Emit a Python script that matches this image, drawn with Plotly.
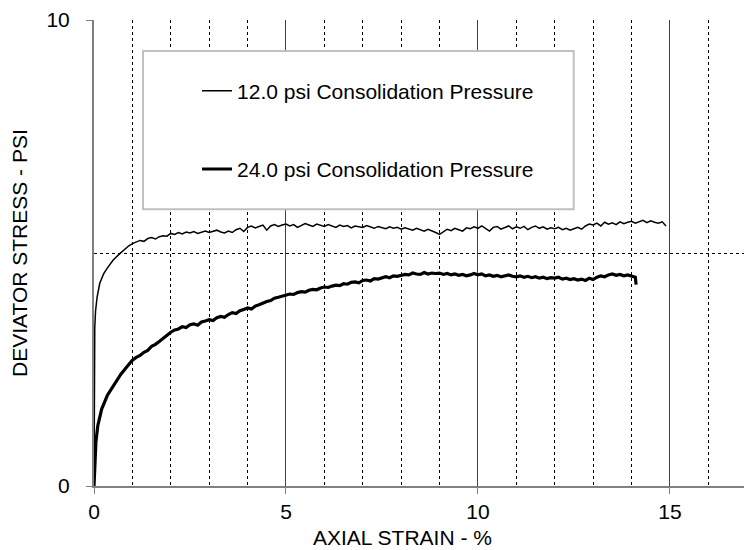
import plotly.graph_objects as go

# 12.0 psi consolidation pressure (thin line)
strain_12 = [0, 0.01, 0.02, 0.04, 0.08, 0.15, 0.25, 0.35, 0.5, 0.65, 0.8, 0.9,
             1.0, 1.1, 1.2, 1.3, 1.4, 1.5, 1.6, 1.7, 1.8, 1.9,
             2.0, 2.1, 2.2, 2.3, 2.4, 2.5, 2.6, 2.7, 2.8, 2.9,
             3.0, 3.1, 3.2, 3.3, 3.4, 3.5, 3.6, 3.7, 3.8, 3.9,
             4.0, 4.1, 4.2, 4.3, 4.4, 4.5, 4.6, 4.7, 4.8, 4.9,
             5.0, 5.1, 5.2, 5.3, 5.4, 5.5, 5.6, 5.7, 5.8, 5.9,
             6.0, 6.1, 6.2, 6.3, 6.4, 6.5, 6.6, 6.7, 6.8, 6.9,
             7.0, 7.1, 7.2, 7.3, 7.4, 7.5, 7.6, 7.7, 7.8, 7.9,
             8.0, 8.1, 8.2, 8.3, 8.4, 8.5, 8.6, 8.7, 8.8, 8.9,
             9.0, 9.1, 9.2, 9.3, 9.4, 9.5, 9.6, 9.7, 9.8, 9.9,
             10.0, 10.1, 10.2, 10.3, 10.4, 10.5, 10.6, 10.7, 10.8, 10.9,
             11.0, 11.1, 11.2, 11.3, 11.4, 11.5, 11.6, 11.7, 11.8, 11.9,
             12.0, 12.1, 12.2, 12.3, 12.4, 12.5, 12.6, 12.7, 12.8, 12.9,
             13.0, 13.1, 13.2, 13.3, 13.4, 13.5, 13.6, 13.7, 13.8, 13.9,
             14.0, 14.1, 14.2, 14.3, 14.4, 14.5, 14.6, 14.7, 14.8, 14.9]
stress_12 = [0, 2.0, 3.4, 3.75, 4.05, 4.35, 4.55, 4.68, 4.85, 4.97, 5.08, 5.15,
             5.20, 5.24, 5.27, 5.25, 5.31, 5.33, 5.30, 5.35, 5.37, 5.36,
             5.42, 5.40, 5.44, 5.41, 5.45, 5.43, 5.46, 5.42, 5.44, 5.47,
             5.44, 5.46, 5.49, 5.45, 5.43, 5.47, 5.44, 5.50, 5.53, 5.46,
             5.55, 5.58, 5.54, 5.57, 5.60, 5.49, 5.58, 5.61, 5.57, 5.60,
             5.62, 5.58, 5.61, 5.55, 5.59, 5.63, 5.60, 5.57, 5.62, 5.59,
             5.57, 5.61, 5.58, 5.55, 5.60, 5.57, 5.59, 5.54, 5.58, 5.56,
             5.55, 5.59, 5.56, 5.53, 5.57, 5.55, 5.52, 5.56, 5.53, 5.55,
             5.51, 5.54, 5.52, 5.49, 5.53, 5.50, 5.47, 5.51, 5.48, 5.44,
             5.40, 5.45, 5.51, 5.48, 5.53, 5.50, 5.47, 5.54, 5.52, 5.56,
             5.53, 5.58, 5.52, 5.47, 5.55, 5.57, 5.51, 5.54, 5.58, 5.52,
             5.56, 5.53, 5.57, 5.50, 5.55, 5.58, 5.53, 5.56, 5.51, 5.54,
             5.52, 5.55, 5.50, 5.53, 5.49, 5.52, 5.55, 5.51, 5.58, 5.62,
             5.60, 5.64, 5.58, 5.66, 5.62, 5.65, 5.61, 5.67, 5.63, 5.66,
             5.68, 5.64, 5.67, 5.70, 5.65, 5.69, 5.66, 5.64, 5.67, 5.58]

# 24.0 psi consolidation pressure (thick line)
strain_24 = [0, 0.02, 0.05, 0.1, 0.2, 0.35, 0.5, 0.7, 0.9,
             1.0, 1.1, 1.2, 1.3, 1.4, 1.5, 1.6, 1.7, 1.8, 1.9,
             2.0, 2.1, 2.2, 2.3, 2.4, 2.5, 2.6, 2.7, 2.8, 2.9,
             3.0, 3.1, 3.2, 3.3, 3.4, 3.5, 3.6, 3.7, 3.8, 3.9,
             4.0, 4.1, 4.2, 4.3, 4.4, 4.5, 4.6, 4.7, 4.8, 4.9,
             5.0, 5.1, 5.2, 5.3, 5.4, 5.5, 5.6, 5.7, 5.8, 5.9,
             6.0, 6.1, 6.2, 6.3, 6.4, 6.5, 6.6, 6.7, 6.8, 6.9,
             7.0, 7.1, 7.2, 7.3, 7.4, 7.5, 7.6, 7.7, 7.8, 7.9,
             8.0, 8.1, 8.2, 8.3, 8.4, 8.5, 8.6, 8.7, 8.8, 8.9,
             9.0, 9.1, 9.2, 9.3, 9.4, 9.5, 9.6, 9.7, 9.8, 9.9,
             10.0, 10.1, 10.2, 10.3, 10.4, 10.5, 10.6, 10.7, 10.8, 10.9,
             11.0, 11.1, 11.2, 11.3, 11.4, 11.5, 11.6, 11.7, 11.8, 11.9,
             12.0, 12.1, 12.2, 12.3, 12.4, 12.5, 12.6, 12.7, 12.8, 12.9,
             13.0, 13.1, 13.2, 13.3, 13.4, 13.5, 13.6, 13.7, 13.8, 13.9,
             14.0, 14.1, 14.12]
stress_24 = [0, 0.5, 0.95, 1.3, 1.65, 1.95, 2.15, 2.4, 2.6,
             2.70, 2.76, 2.80, 2.87, 2.91, 3.00, 3.04, 3.10, 3.17, 3.22,
             3.30, 3.35, 3.37, 3.42, 3.40, 3.46, 3.48, 3.45, 3.52, 3.54,
             3.57, 3.55, 3.61, 3.64, 3.62, 3.68, 3.72, 3.70, 3.76, 3.79,
             3.82, 3.80, 3.86, 3.89, 3.93, 3.96, 3.98, 4.03, 4.05, 4.07,
             4.10, 4.12, 4.11, 4.15, 4.17, 4.16, 4.20, 4.22, 4.21, 4.25,
             4.27, 4.26, 4.29, 4.31, 4.30, 4.34, 4.33, 4.37, 4.38, 4.36,
             4.41, 4.42, 4.40, 4.45, 4.44, 4.47, 4.49, 4.47, 4.51, 4.50,
             4.52, 4.54, 4.53, 4.57, 4.55, 4.54, 4.58, 4.55, 4.57, 4.56,
             4.57, 4.54, 4.56, 4.53, 4.55, 4.52, 4.54, 4.51, 4.53, 4.56,
             4.53, 4.55, 4.51, 4.53, 4.50, 4.52, 4.49, 4.51, 4.53, 4.50,
             4.49, 4.51, 4.48, 4.50, 4.47, 4.49, 4.46, 4.48, 4.45, 4.47,
             4.46, 4.48, 4.44, 4.46, 4.43, 4.45, 4.42, 4.44, 4.41, 4.46,
             4.43, 4.48, 4.51, 4.49, 4.53, 4.55, 4.52, 4.54, 4.51, 4.53,
             4.50, 4.48, 4.32]

series_names = ["12.0 psi Consolidation Pressure", "24.0 psi Consolidation Pressure"]
x_title = "AXIAL STRAIN - %"
y_title = "DEVIATOR STRESS - PSI"

FONT = "Liberation Sans, Arial, sans-serif"

fig = go.Figure()
fig.add_trace(go.Scatter(x=strain_12, y=stress_12, mode="lines", name=series_names[0],
                         legendgroup="a", line=dict(color="black", width=1.5)))
fig.add_trace(go.Scatter(x=strain_24, y=stress_24, mode="lines", name=series_names[1],
                         legendgroup="b", line=dict(color="black", width=3.2)))

fig.update_layout(
    width=744, height=550,
    margin=dict(l=94, r=0, t=20, b=64),
    paper_bgcolor="white", plot_bgcolor="white",
    font=dict(family=FONT, size=21, color="black"),
    showlegend=True,
    legend=dict(x=0.1585, y=0.8915, xanchor="left", yanchor="top",
                bgcolor="rgba(0,0,0,0)", borderwidth=0,
                font=dict(size=21), tracegroupgap=48, itemwidth=30),
    shapes=[dict(type="rect", xref="paper", yref="paper", x0=0.0754, x1=0.738,
                 y0=0.594, y1=0.9335, line=dict(color="#c0c0c0", width=2),
                 fillcolor="white", layer="above")],
    annotations=[
        dict(text=x_title, xref="paper", yref="paper", x=0.474, y=-0.1105,
             xanchor="center", yanchor="middle", showarrow=False, font=dict(size=21)),
        dict(text=y_title, xref="paper", yref="paper", x=-0.1154, y=0.5,
             xanchor="center", yanchor="middle", textangle=-90, showarrow=False,
             font=dict(size=21)),
    ],
)

fig.update_xaxes(
    range=[0, 16.93], tick0=0, dtick=5,
    ticks="outside", ticklen=6, tickcolor="#808080", tickwidth=1,
    showline=True, linecolor="#808080", linewidth=2,
    showgrid=True, gridcolor="#404040", gridwidth=1,
    minor=dict(tick0=0, dtick=1, showgrid=True, gridcolor="black", griddash="dot", gridwidth=1, ticks=""),
    zeroline=False,
    tickfont=dict(size=21),
)
fig.update_yaxes(
    range=[0, 10], tick0=0, dtick=10,
    ticks="outside", ticklen=6, tickcolor="#808080", tickwidth=1,
    showline=True, linecolor="#808080", linewidth=2,
    showgrid=True, gridcolor="#808080", gridwidth=1,
    minor=dict(tick0=0, dtick=5, showgrid=True, gridcolor="black", griddash="dot", gridwidth=1, ticks=""),
    zeroline=False,
    ticklabelstandoff=12,
    tickfont=dict(size=21),
)

fig.write_html("out.html")
